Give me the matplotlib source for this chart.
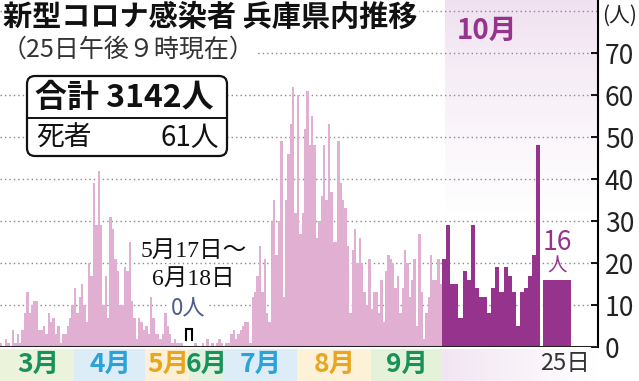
import numpy as np
import matplotlib
matplotlib.use("Agg")
import matplotlib.pyplot as plt
from matplotlib.patches import FancyBboxPatch, Rectangle

plt.rcParams['font.family'] = ['Noto Sans CJK JP', 'DejaVu Sans']

# --- data (daily new cases) ---
mar = [1, 0, 2, 1, 0, 4, 1, 3, 1, 4, 8, 13, 8, 10, 11, 11, 4, 4, 5, 3, 8, 6, 7, 3, 5, 1, 3, 3, 5, 7, 10]
apr = [14, 8, 12, 15, 10, 6, 20, 17, 39, 29, 42, 29, 10, 17, 7, 31, 28, 21, 18, 10,
       10, 19, 18, 25, 11, 7, 2, 7, 6, 4]
may = [5, 3, 12, 7, 3, 3, 2, 3, 8, 5, 3, 1, 2, 1, 1, 1]          # 5/1 - 5/16
jun = [1, 0, 0, 1, 0, 2, 0, 1, 0, 1, 2, 1]                       # 6/19 - 6/30
jul = [0, 1, 1, 3, 4, 2, 3, 4, 5, 6, 6, 1, 12, 13, 17, 24, 13, 21, 8, 6,
       30, 35, 22, 30, 49, 12, 35, 46, 53, 62, 32]
aug = [60, 27, 32, 52, 61, 48, 55, 48, 26, 30, 36, 48, 35, 53, 37, 25, 25, 49, 39, 35,
       33, 24, 8, 23, 28, 20, 26, 20, 13, 10, 21]
sep = [9, 13, 13, 8, 16, 6, 18, 22, 21, 20, 14, 17, 8, 14, 23, 20, 12, 16, 21, 5,
       27, 13, 2, 8, 12, 22, 16, 16, 21, 15]
octo = [21, 29, 15, 15, 7, 18, 16, 29, 14, 12, 12, 8, 14, 19, 13, 19, 17, 13, 5, 13,
        14, 17, 22, 48]                                          # 10/1 - 10/24
today = 16                                                       # 10/25

months = ["3月", "4月", "5月", "6月", "7月", "8月", "9月"]
month_colors = ["#17925a", "#2ba2d8", "#e8a61e", "#17925a", "#2ba2d8", "#e8a61e", "#17925a"]
band_colors = ["#ebf3da", "#dcedf7", "#fdf0d6", "#e2f1df", "#dcedf7", "#fdf1d8", "#e5f2da"]
yticks = [0, 10, 20, 30, 40, 50, 60, 70]

PINK = "#e0afd2"
PURPLE = "#96338c"

# --- layout (pixel units on x) ---
W = 2.38          # px per day before October
OCT_X = 442
OCT_W = 4.1
AX_R = 598
PX_PER_UNIT = 4.2

fig = plt.figure(figsize=(6.39, 3.81), dpi=100)
ax = fig.add_axes([0, 34 / 381, AX_R / 639, 347 / 381])
ax.set_xlim(0, AX_R)
ymax = 347 / PX_PER_UNIT
ax.set_ylim(0, ymax)

# October shading
grad = np.ones((100, 2, 4))
grad[..., 0] = 0.945
grad[..., 1] = 0.885
grad[..., 2] = 0.945
grad[..., 3] = np.linspace(1, 0, 100)[:, None] ** 1.3
ax.imshow(grad, extent=(445, AX_R, 28, ymax), aspect="auto", zorder=0)

# gridlines
for v in range(10, 90, 10):
    ax.axhline(v, color="#8a8a8a", lw=1.0, ls=(0, (1, 2.2)), zorder=1)

# bars before the zero period
seg1 = mar + apr + may
x1 = np.arange(len(seg1)) * W
ax.bar(x1, seg1, width=W, align="edge", color=PINK, lw=0, zorder=2)
seg1_end = len(seg1) * W

# bars after the zero period
seg2 = jun + jul + aug + sep
seg2_start = OCT_X - len(seg2) * W
x2 = seg2_start + np.arange(len(seg2)) * W
ax.bar(x2, seg2, width=W, align="edge", color=PINK, lw=0, zorder=2)

# October
x3 = OCT_X + np.arange(len(octo)) * OCT_W
ax.bar(x3, octo, width=OCT_W, align="edge", color=PURPLE, lw=0, zorder=3)
last_x = OCT_X + len(octo) * OCT_W + 3
ax.bar([last_x], [today], width=27.5, align="edge", color=PURPLE, lw=0, zorder=3)

# bracket for the zero period
bl, br = seg1_end + 2.5, seg2_start - 2.5
ax.plot([bl, bl, br, br], [1.6, 4.3, 4.3, 1.6], color="black", lw=1.5,
        solid_joinstyle="miter", zorder=4)

ax.axhline(0, color="#222222", lw=2.2, zorder=5)

# right axis
for s in ["top", "left", "bottom"]:
    ax.spines[s].set_visible(False)
ax.spines["right"].set_linewidth(1.5)
ax.set_xticks([])
ax.yaxis.tick_right()
ax.set_yticks(yticks)
ax.tick_params(axis="y", direction="in", length=5, width=1.3, labelsize=19,
               pad=5, labelcolor="#222222")
ax.patch.set_visible(False)

# --- overlay in pixel coordinates ---
ov = fig.add_axes([0, 0, 1, 1], zorder=10)
ov.set_xlim(0, 639)
ov.set_ylim(381, 0)
ov.axis("off")

white = dict(facecolor="white", edgecolor="none", pad=1.0)
ov.text(3, 17, "新型コロナ感染者 兵庫県内推移", fontsize=21, fontweight="bold",
        va="center", ha="left", color="#111111", bbox=white)
ov.text(1.5, 50, "（25日午後９時現在）", fontsize=18, va="center", ha="left",
        color="#333333", bbox=white)

box = FancyBboxPatch((27, 76), 200, 80, boxstyle="round,pad=0,rounding_size=8",
                     facecolor="white", edgecolor="#111111", lw=1.6)
ov.add_patch(box)
ov.plot([27, 227], [118, 118], color="#111111", lw=1.4)
ov.text(35, 98, "合計 3142人", fontsize=23, fontweight="bold", va="center",
        ha="left", color="#111111")
ov.text(36, 138, "死者", fontsize=20, va="center", ha="left", color="#111111")
ov.text(219, 138, "61人", fontsize=20, va="center", ha="right", color="#111111")

ov.text(487, 31, "10月", fontsize=20, fontweight="bold", va="center",
        ha="center", color=PURPLE)
ov.text(602, 16, "(人)", fontsize=15, va="center", ha="left", color="#222222")

serif = ["Liberation Serif", "Noto Sans CJK JP"]
ov.text(194, 251, "5月17日～", fontsize=17, family=serif, va="center",
        ha="center", color="#111111")
ov.text(193, 279, "6月18日", fontsize=17, family=serif, va="center",
        ha="center", color="#111111")
ov.text(188, 309, "0人", fontsize=16, va="center", ha="center", color="#4b5c8e",
        bbox=white)

ov.text(557, 243, "16", fontsize=19, va="center", ha="center", color=PURPLE)
ov.text(557, 266, "人", fontsize=14, va="center", ha="center", color=PURPLE)

# month band
mid = (seg1_end + seg2_start) / 2
edges = [0, len(mar) * W, (len(mar) + len(apr)) * W, mid,
         seg2_start + len(jun) * W,
         seg2_start + (len(jun) + len(jul)) * W,
         seg2_start + (len(jun) + len(jul) + len(aug)) * W,
         OCT_X]
for i, name in enumerate(months):
    ov.add_patch(Rectangle((edges[i], 349), edges[i + 1] - edges[i], 32,
                           facecolor=band_colors[i], edgecolor="none"))
    ov.text((edges[i] + edges[i + 1]) / 2 + 1, 364, name, fontsize=19,
            fontweight="bold", va="center", ha="center", color=month_colors[i])

band = np.ones((2, 100, 4))
band[..., 0] = 0.95
band[..., 1] = 0.90
band[..., 2] = 0.95
band[..., 3] = np.linspace(1, 0, 100)[None, :]
ov.imshow(band, extent=(OCT_X, AX_R, 381, 349), aspect="auto", zorder=0)
ov.set_xlim(0, 639)
ov.set_ylim(381, 0)

ov.text(565, 364, "25日", fontsize=17, va="center", ha="center", color="#333333")

fig.savefig("out.png", dpi=100)
